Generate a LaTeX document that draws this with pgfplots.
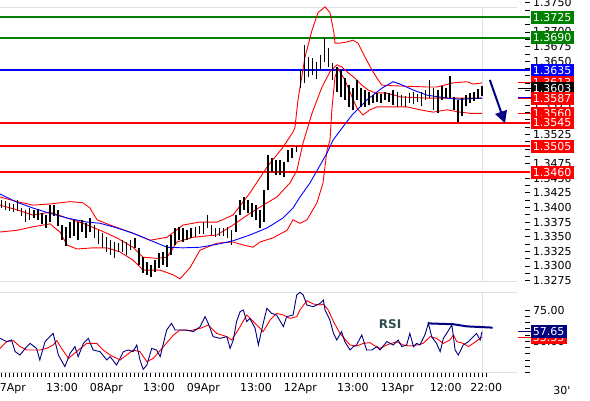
\documentclass[border=0pt]{standalone}
\usepackage{fontspec}
\setmainfont{DejaVu Sans}
\usepackage{pgfplots}
\usepackage{pgfplotstable}
\pgfplotsset{compat=1.18}
\usetikzlibrary{arrows.meta}

\definecolor{supgreen}{HTML}{008000}
\definecolor{supblue}{HTML}{0000FF}
\definecolor{supred}{HTML}{FF0000}
\definecolor{navy}{HTML}{000080}
\definecolor{frame}{HTML}{D9E2EA}
\definecolor{slate}{HTML}{2F4F4F}

% hourly bars (30' chart, hours on a trading-time axis, 07Apr 00:00 = 0)
\pgfplotstableread{
h lo hi
-2 1.3399 1.3413
-1 1.3396 1.3411
0 1.3394 1.3408
1 1.3392 1.3406
2 1.3394 1.3413
3 1.3385 1.3399
4 1.3375 1.3396
5 1.3379 1.3399
6 1.3382 1.3396
7 1.3379 1.3397
8 1.3372 1.3390
9 1.3365 1.3387
10 1.3375 1.3404
11 1.3385 1.3404
12 1.3368 1.3396
13 1.3344 1.3370
14 1.3334 1.3367
15 1.3348 1.3375
16 1.3351 1.3379
17 1.3344 1.3375
18 1.3358 1.3379
19 1.3348 1.3373
20 1.3358 1.3382
21 1.3348 1.3370
22 1.3337 1.3361
23 1.3331 1.3356
24 1.3324 1.3349
25 1.3318 1.3344
26 1.3313 1.3341
27 1.3324 1.3339
28 1.3324 1.3344
29 1.3318 1.3341
30 1.3327 1.3344
31 1.3331 1.3348
32 1.3302 1.3331
33 1.3288 1.3315
34 1.3285 1.3307
35 1.3281 1.3302
36 1.3290 1.3310
37 1.3297 1.3322
38 1.3302 1.3324
39 1.3298 1.3336
40 1.3318 1.3353
41 1.3336 1.3365
42 1.3344 1.3367
43 1.3341 1.3365
44 1.3344 1.3361
45 1.3348 1.3365
46 1.3349 1.3367
47 1.3355 1.3368
48 1.3355 1.3375
49 1.3365 1.3387
50 1.3353 1.3370
51 1.3349 1.3365
52 1.3351 1.3365
53 1.3351 1.3365
54 1.3348 1.3367
55 1.3336 1.3361
56 1.3358 1.3387
57 1.3387 1.3413
58 1.3396 1.3418
59 1.3390 1.3413
60 1.3384 1.3408
61 1.3379 1.3404
62 1.3365 1.3396
63 1.3375 1.3430
64 1.3430 1.3490
65 1.3461 1.3484
66 1.3455 1.3481
67 1.3455 1.3481
68 1.3452 1.3478
69 1.3478 1.3498
70 1.3484 1.3502
71 1.3495 1.3505
72 1.3604 1.3635
73 1.3613 1.3678
74 1.3623 1.3657
75 1.3626 1.3656
76 1.3619 1.3648
77 1.3635 1.3661
78 1.3649 1.3690
79 1.3640 1.3673
80 1.3618 1.3647
81 1.3597 1.3640
82 1.3589 1.3635
83 1.3584 1.3621
84 1.3572 1.3609
85 1.3567 1.3604
86 1.3584 1.3618
87 1.3572 1.3604
88 1.3572 1.3601
89 1.3575 1.3597
90 1.3579 1.3592
91 1.3580 1.3596
92 1.3579 1.3594
93 1.3584 1.3597
94 1.3580 1.3596
95 1.3575 1.3601
96 1.3572 1.3597
97 1.3573 1.3592
98 1.3572 1.3591
99 1.3579 1.3596
100 1.3577 1.3597
101 1.3580 1.3594
102 1.3573 1.3597
103 1.3584 1.3601
104 1.3587 1.3618
105 1.3567 1.3604
106 1.3561 1.3601
107 1.3584 1.3608
108 1.3587 1.3604
109 1.3587 1.3625
110 1.3567 1.3589
111 1.3546 1.3584
112 1.3556 1.3587
113 1.3573 1.3592
114 1.3579 1.3596
115 1.3582 1.3597
116 1.3585 1.3602
117 1.3591 1.3608
}\bars

\pgfplotsset{
  /pgf/number format/assume math mode=true,
  panel/.style={
    scale only axis, width=525pt, xmin=-2.35, xmax=127.6,
    anchor=south west, clip=false,
    axis line style={draw=none},
    ytick pos=right, yticklabel pos=right,
    tick align=outside,
    major tick length=4.5pt, minor tick length=4.5pt,
    tick style={black, line width=0.8pt},
    ticklabel style={font=\fontsize{11}{13}\selectfont, text=black},
  },
}
\tikzset{
  lbl/.style={anchor=west, minimum height=13pt, inner xsep=2.2pt, inner ysep=0pt,
    text=white, font=\fontsize{11}{13}\selectfont},
}

\begin{document}
\begin{tikzpicture}
\useasboundingbox (0,0) rectangle (590pt,400pt);

% ---------------- price panel ----------------
\begin{axis}[panel, at={(0pt,119pt)}, height=281pt,
  ymin=1.32743, ymax=1.37547, xtick=\empty,
  ytick={1.3275,1.3300,1.3325,1.3350,1.3375,1.3400,1.3425,1.3450,1.3475,1.3500,
         1.3525,1.3550,1.3575,1.3600,1.3625,1.3650,1.3675,1.3700,1.3725,1.3750},
  minor y tick num=1,
  yticklabel style={/pgf/number format/fixed, /pgf/number format/fixed zerofill,
    /pgf/number format/precision=4},
]
% frame lines
\draw[frame, line width=1pt] (axis cs:-2.35,1.37427) -- (axis cs:125.6,1.37427);
\draw[frame, line width=1pt] (axis cs:-2.35,1.32743) -- (axis cs:125.6,1.32743);
\draw[frame, line width=1pt] (axis cs:116.96,1.32743) -- (axis cs:116.96,1.37427);

% support / resistance
\draw[supgreen, line width=2pt] (axis cs:-2.35,1.3725) -- (axis cs:128.84,1.3725);
\draw[supgreen, line width=2pt] (axis cs:-2.35,1.3690) -- (axis cs:128.84,1.3690);
\draw[supblue,  line width=2pt] (axis cs:-2.35,1.3635) -- (axis cs:128.84,1.3635);
\draw[supred,   line width=2pt] (axis cs:-2.35,1.3545) -- (axis cs:128.84,1.3545);
\draw[supred,   line width=2pt] (axis cs:-2.35,1.3505) -- (axis cs:128.84,1.3505);
\draw[supred,   line width=2pt] (axis cs:-2.35,1.3460) -- (axis cs:128.84,1.3460);

% Bollinger upper
\addplot[supred, line width=0.9pt] coordinates {
(-2.35,1.3418) (1.86,1.3410) (5.82,1.3404) (10.02,1.3406) (15.0,1.3410) (18.19,1.3408)
(19.93,1.3399) (21.66,1.3379) (24.88,1.3370) (30.57,1.3356) (34.78,1.3344) (38.99,1.3349)
(42.95,1.3370) (47.15,1.3375) (51.36,1.3375) (55.32,1.3387) (59.53,1.3425) (63.74,1.3469)
(67.70,1.3503) (70.17,1.3529) (70.67,1.3537) (71.41,1.3584) (73.14,1.3657) (74.88,1.3703)
(76.36,1.3733) (78.10,1.3743) (79.33,1.3733) (80.32,1.3698) (80.57,1.3681) (81.81,1.3681)
(83.54,1.3683) (85.02,1.3686) (86.26,1.3681) (88.0,1.3657) (89.73,1.3635) (90.97,1.3621)
(92.2,1.3609) (95.42,1.3608) (103.34,1.3606) (105.82,1.3606) (109.78,1.3613) (113.24,1.3615)
(114.73,1.3611) (116.96,1.3613)};
% Bollinger middle
\addplot[supred, line width=0.9pt] coordinates {
(-2.35,1.3404) (1.86,1.3396) (5.82,1.3387) (10.02,1.3392) (14.23,1.3382) (18.19,1.3373)
(22.40,1.3361) (26.61,1.3348) (30.57,1.3332) (33.04,1.3315) (36.51,1.3313) (38.99,1.3315)
(41.46,1.3341) (45.42,1.3349) (51.36,1.3353) (55.32,1.3370) (59.53,1.3390) (63.74,1.3408)
(66.21,1.3418) (69.43,1.3442) (71.16,1.3464) (72.65,1.3510) (74.88,1.3561) (77.35,1.3606)
(79.33,1.3632) (81.06,1.3644) (82.30,1.3640) (83.54,1.3632) (85.52,1.3621) (87.25,1.3609)
(88.74,1.3601) (90.47,1.3596) (92.95,1.3596) (95.42,1.3592) (96.66,1.3589) (103.34,1.3587)
(109.78,1.3587) (116.96,1.3587)};
% Bollinger lower
\addplot[supred, line width=0.9pt] coordinates {
(-2.35,1.3358) (1.86,1.3361) (5.82,1.3367) (10.02,1.3372) (12.5,1.3358) (14.23,1.3336)
(16.71,1.3329) (20.67,1.3331) (24.13,1.3331) (27.35,1.3324) (30.57,1.3310) (33.04,1.3293)
(37.25,1.3293) (40.47,1.3285) (42.20,1.3278) (44.68,1.3297) (47.15,1.3327) (51.36,1.3339)
(55.32,1.3341) (57.80,1.3336) (60.27,1.3332) (62.0,1.3341) (65.22,1.3348) (68.69,1.3361)
(70.17,1.3379) (71.91,1.3373) (73.64,1.3379) (76.11,1.3408) (77.60,1.3442) (78.59,1.3498)
(79.33,1.3515) (79.83,1.3570) (80.57,1.3623) (81.31,1.3638) (83.04,1.3618) (84.78,1.3589)
(86.01,1.3570) (87.50,1.3558) (89.23,1.3567) (90.97,1.3572) (92.95,1.3572) (98.39,1.3572)
(101.61,1.3567) (104.83,1.3563) (108.29,1.3567) (111.51,1.3563) (113.99,1.3561) (116.96,1.3561)};
% moving average
\addplot[supblue, line width=0.9pt] coordinates {
(-2.35,1.3423) (1.86,1.3409) (5.82,1.3399) (10.02,1.3390) (14.23,1.3382) (19.18,1.3375)
(22.40,1.3373) (26.61,1.3365) (30.57,1.3356) (34.78,1.3344) (38.99,1.3332) (42.95,1.3331)
(47.15,1.3332) (51.36,1.3337) (55.32,1.3343) (59.53,1.3353) (63.74,1.3365) (67.70,1.3382)
(70.17,1.3399) (71.91,1.3418) (74.38,1.3442) (78.59,1.3493) (80.07,1.3515) (82.55,1.3538)
(84.78,1.3558) (88.49,1.3584) (92.20,1.3604) (94.93,1.3615) (96.66,1.3611) (99.88,1.3601)
(103.34,1.3592) (108.29,1.3587) (111.51,1.3585) (116.96,1.3587)};

% price bars (high-low)
\addplot[draw=none, mark=none, forget plot,
  error bars/.cd, y dir=plus, y explicit, error mark=none,
  error bar style={draw=black, line width=1.6pt}]
  table[x=h, y=lo, y error expr=\thisrow{hi}-\thisrow{lo}] {\bars};

% arrow
\draw[navy, line width=2pt, -{Triangle[length=12pt,width=12pt]}]
  (axis cs:118.9,1.3618) -- (axis cs:122.65,1.3544);

\coordinate (p3725) at (axis cs:127.6,1.3725);
\coordinate (p3690) at (axis cs:127.6,1.3690);
\coordinate (p3635) at (axis cs:127.6,1.3635);
\coordinate (p3613) at (axis cs:127.6,1.3613);
\coordinate (p3603) at (axis cs:127.6,1.3603);
\coordinate (p3587) at (axis cs:127.6,1.3587);
\coordinate (p3560) at (axis cs:127.6,1.3561);
\coordinate (p3545) at (axis cs:127.6,1.3545);
\coordinate (p3505) at (axis cs:127.6,1.3505);
\coordinate (p3460) at (axis cs:127.6,1.3460);
\end{axis}

% ---------------- RSI panel ----------------
\begin{axis}[panel, at={(0pt,27.5pt)}, height=80.5pt,
  ymin=25, ymax=89.4,
  ytick={25,50,75}, yticklabels={,50.00,75.00}, minor y tick num=4,
  xtick pos=bottom,
  xtick={0,13,24,37,48,61,72,85,96,108,118},
  xticklabels={07Apr,13:00,08Apr,13:00,09Apr,13:00,12Apr,13:00,13Apr,12:00,22:00},
  minor xtick={-2,-1,...,118},
  xticklabel style={yshift=-3pt},
]
\draw[frame, line width=1pt] (axis cs:-2.35,89.4) -- (axis cs:125.6,89.4);
\draw[frame, line width=1pt] (axis cs:-2.35,25) -- (axis cs:125.6,25);
\draw[frame, line width=1pt] (axis cs:116.96,25) -- (axis cs:116.96,89.4);

% RSI signal (red)
\addplot[supred, line width=0.9pt] coordinates {
(-2.35,44.3) (-0.7,49.7) (0.95,50.5) (2.6,45.7) (4.3,43.0) (5.9,43.0) (7.5,43.0) (9.2,44.3)
(10.8,47.0) (11.7,50.5) (12.9,44.3) (14.6,36.3) (16.6,41.7) (19.1,48.3) (21.6,48.3) (23.2,43.0)
(24.9,39.0) (27.4,35.0) (29.0,39.0) (30.6,43.0) (32.3,41.7) (34.0,33.7) (35.6,36.3) (38.1,45.7)
(40.6,55.0) (42.2,59.0) (44.7,58.5) (47.2,60.3) (49.2,63.0) (51.3,56.3) (53.8,53.7) (55.0,51.0)
(57.1,61.7) (58.7,71.0) (60.4,65.7) (62.8,57.7) (64.5,67.0) (66.1,72.3) (67.8,71.0) (69.4,68.3)
(71.1,69.7) (71.9,75.0) (73.6,82.5) (75.2,79.8) (76.9,79.0) (77.7,79.8) (78.9,75.0) (80.2,65.7)
(81.8,56.3) (84.3,47.0) (85.9,46.2) (87.6,48.3) (89.2,48.9) (90.1,47.0) (91.7,44.3) (93.4,47.0)
(95.8,49.7) (97.5,47.0) (99.1,46.2) (100.8,47.0) (102.4,48.3) (104.1,53.7) (105.7,52.3)
(107.4,48.3) (109.0,51.0) (109.9,55.0) (110.7,49.7) (112.3,48.3) (113.6,45.7) (114.8,48.3)
(116.96,53.4)};
% RSI (navy)
\addplot[navy, line width=0.9pt] coordinates {
(-2.35,52.3) (-0.7,49.7) (0.5,51.0) (1.4,41.7) (2.6,39.0) (3.9,44.3) (5.1,48.3) (6.7,44.3)
(7.5,35.0) (8.8,49.7) (10.0,53.7) (10.8,56.3) (12.1,39.0) (13.7,29.7) (15.0,40.3) (16.2,45.7)
(17.0,37.7) (18.3,48.3) (19.5,52.3) (20.7,43.0) (22.4,41.7) (24.1,35.0) (24.9,37.7) (26.5,31.0)
(28.2,41.7) (29.4,43.0) (30.6,41.7) (31.5,47.0) (32.3,35.0) (33.1,27.5) (34.0,31.0) (35.2,44.3)
(36.4,43.0) (37.3,37.7) (38.1,48.3) (38.9,59.0) (40.1,64.3) (41.0,59.0) (42.2,59.0) (43.9,59.0)
(45.5,57.7) (47.2,61.7) (48.4,69.7) (49.2,64.3) (50.4,53.7) (52.1,52.3) (53.8,53.7) (54.6,44.3)
(55.4,51.0) (56.2,65.7) (57.1,73.7) (57.9,75.0) (58.7,65.7) (59.5,68.3) (60.8,60.3) (61.6,47.0)
(62.8,64.3) (63.7,76.3) (64.9,72.3) (66.1,71.0) (67.8,61.7) (68.6,69.7) (70.2,71.0) (71.1,87.0)
(71.9,89.2) (72.7,87.0) (73.6,79.0) (75.2,77.7) (76.9,80.3) (77.7,83.0) (78.1,75.0) (79.3,67.0)
(80.2,56.3) (81.0,51.0) (82.2,57.7) (83.0,49.7) (84.3,43.0) (85.1,45.7) (85.9,47.0) (87.2,55.0)
(88.4,43.0) (89.7,43.0) (90.9,45.7) (91.7,43.0) (93.4,49.7) (95.0,47.0) (96.2,51.0) (97.1,45.7)
(98.3,47.0) (99.1,56.3) (100.0,45.7) (100.8,48.3) (101.6,47.0) (102.8,55.0) (103.7,64.3)
(104.5,53.7) (105.7,48.3) (106.6,41.7) (107.4,52.3) (108.2,56.3) (109.5,63.0) (110.3,43.0)
(111.1,39.0) (112.3,47.0) (113.6,49.7) (114.8,53.7) (115.6,56.3) (116.5,51.0) (116.96,57.65)};

% trend line on RSI
\draw[navy, line width=2pt] (axis cs:103.5,64.3) -- (axis cs:109.9,63.6)
  -- (axis cs:113.2,61.9) -- (axis cs:119.6,60.9);
\node[font=\fontsize{12}{14}\selectfont\bfseries, text=slate] at (axis cs:94.2,63.8) {RSI};

\coordinate (r5765) at (axis cs:127.6,57.65);
\coordinate (r5333) at (axis cs:127.6,53.33);
\end{axis}

% ---------------- right-hand labels ----------------
\draw[supred, line width=0.8pt] ([xshift=-7pt]p3613) -- ([xshift=5.5pt]p3613);
\draw[black, line width=0.8pt] ([xshift=-7pt]p3603) -- ([xshift=5.5pt]p3603);
\draw[supblue, line width=0.8pt] ([xshift=-7pt,yshift=0.8pt]p3587) -- ([xshift=5.5pt,yshift=0.8pt]p3587);
\draw[supred, line width=0.8pt] ([xshift=-7pt,yshift=-0.6pt]p3587) -- ([xshift=5.5pt,yshift=-0.6pt]p3587);
\draw[supred, line width=0.8pt] ([xshift=-7pt]p3560) -- ([xshift=5.5pt]p3560);
\draw[navy, line width=0.8pt] ([xshift=-7pt]r5765) -- ([xshift=5.5pt]r5765);
\draw[supred, line width=0.8pt] ([xshift=-7pt]r5333) -- ([xshift=5.5pt]r5333);

\node[lbl, fill=supgreen] at ([xshift=5.5pt]p3725) {1.3725};
\node[lbl, fill=supgreen] at ([xshift=5.5pt]p3690) {1.3690};
\node[lbl, fill=supblue]  at ([xshift=5.5pt]p3635) {1.3635};
\node[lbl, fill=supred]   at ([xshift=5.5pt]p3613) {1.3613};
\node[lbl, fill=black]    at ([xshift=5.5pt]p3603) {1.3603};
\node[lbl, fill=supred]   at ([xshift=5.5pt]p3587) {1.3587};
\node[lbl, fill=supred]   at ([xshift=5.5pt]p3560) {1.3560};
\node[lbl, fill=supred]   at ([xshift=5.5pt]p3545) {1.3545};
\node[lbl, fill=supred]   at ([xshift=5.5pt]p3505) {1.3505};
\node[lbl, fill=supred]   at ([xshift=5.5pt]p3460) {1.3460};
\node[lbl, fill=supred]   at ([xshift=5.5pt]r5333) {53.33};
\node[lbl, fill=navy]     at ([xshift=5.5pt]r5765) {57.65};

\node[font=\fontsize{11}{13}\selectfont] at (562pt,10pt) {30\textquotesingle};
\end{tikzpicture}
\end{document}
